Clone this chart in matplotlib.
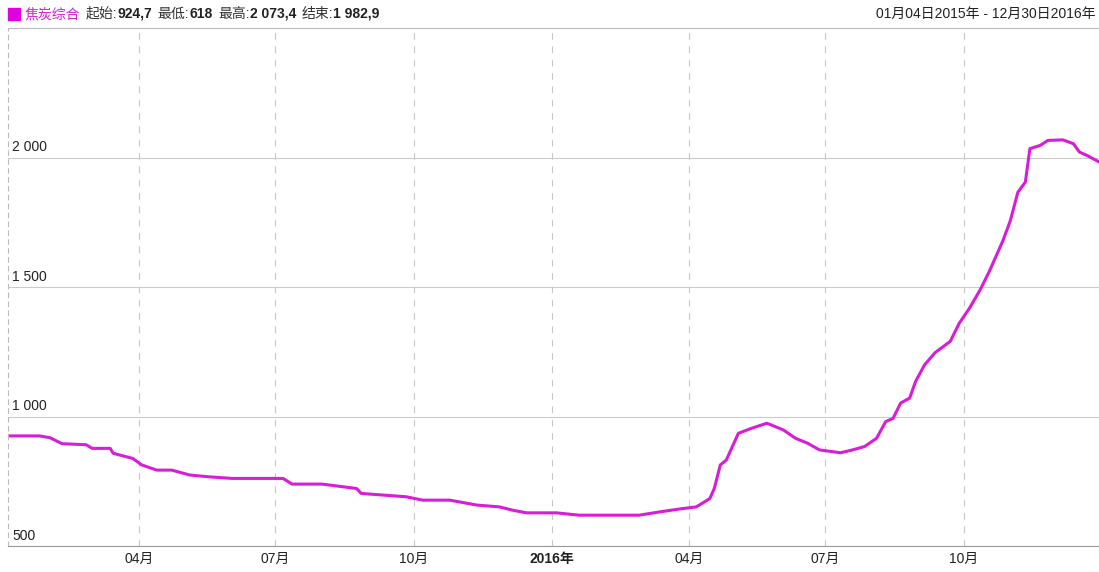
import matplotlib.pyplot as plt
import numpy as np
import pandas as pd

plt.rcParams['font.family'] = ['Liberation Sans', 'Noto Sans CJK SC', 'DejaVu Sans']

# weekly-ish readings of the coke composite index
dates = ['2015-01-04', '2015-01-25', '2015-02-01', '2015-02-09', '2015-02-25',
         '2015-03-01', '2015-03-13', '2015-03-15', '2015-03-28', '2015-04-03',
         '2015-04-13', '2015-04-23', '2015-05-05', '2015-05-18', '2015-06-02',
         '2015-07-06', '2015-07-12', '2015-08-01', '2015-08-24', '2015-08-27',
         '2015-09-26', '2015-10-07', '2015-10-25', '2015-11-12', '2015-11-27',
         '2015-12-06', '2015-12-15', '2016-01-04', '2016-01-19', '2016-02-28',
         '2016-03-13', '2016-03-26', '2016-04-06', '2016-04-15', '2016-04-18',
         '2016-04-22', '2016-04-26', '2016-05-04', '2016-05-13', '2016-05-23',
         '2016-06-03', '2016-06-11', '2016-06-19', '2016-06-27', '2016-07-11',
         '2016-07-19', '2016-07-27', '2016-08-04', '2016-08-10', '2016-08-15',
         '2016-08-20', '2016-08-26', '2016-08-30', '2016-09-05', '2016-09-12',
         '2016-09-22', '2016-09-28', '2016-10-05', '2016-10-12', '2016-10-18',
         '2016-10-27', '2016-11-01', '2016-11-06', '2016-11-11', '2016-11-14',
         '2016-11-21', '2016-11-26', '2016-12-06', '2016-12-13', '2016-12-17',
         '2016-12-22', '2016-12-30']
values = [925, 925, 918, 895, 891, 877, 877, 858, 838, 813,
          793, 793, 774, 767, 761, 761, 739, 739, 722, 703,
          690, 677, 677, 658, 651, 638, 628, 628, 619, 619,
          632, 643, 651, 683, 722, 813, 832, 935, 955, 974,
          948, 916, 897, 871, 860, 871, 884, 916, 980, 993,
          1052, 1071, 1136, 1200, 1247, 1290, 1360, 1420, 1490, 1560,
          1678, 1756, 1866, 1905, 2034, 2047, 2066, 2068, 2053, 2021,
          2008, 1983]

tick_dates = ['2015-04-01', '2015-07-01', '2015-10-01', '2016-01-01',
              '2016-04-01', '2016-07-01', '2016-10-01']
tick_labels = ['04月', '07月', '10月', '2016年', '04月', '07月', '10月']
y_ticks = [500, 1000, 1500, 2000]
y_labels = ['500', '1 000', '1 500', '2 000']

series_name = '焦炭综合'
stats = [('起始:', '924,7'), ('最低:', '618'), ('最高:', '2 073,4'), ('结束:', '1 982,9')]
date_range = '01月04日2015年 - 12月30日2016年'

df = pd.DataFrame({'date': pd.to_datetime(dates), 'value': values})

W, H = 1099, 572
fig = plt.figure(figsize=(W / 100, H / 100), dpi=100)
ax = fig.add_axes([8 / W, 26 / H, 1 - 8 / W, 1 - 54 / H])

ax.plot(df['date'], df['value'], color='#d81cd8', lw=2.2, solid_joinstyle='round')

ax.set_xlim(pd.Timestamp('2015-01-04'), pd.Timestamp('2016-12-30'))
ax.set_ylim(500, 2500)

ax.set_yticks(y_ticks)
ax.set_yticklabels([])
ax.tick_params(axis='y', length=0)
for v, lab in zip(y_ticks, y_labels):
    ax.text(0.004, v + 12, lab, transform=ax.get_yaxis_transform(),
            fontsize=10, color='#222222', va='bottom', ha='left')
ax.yaxis.grid(True, color='#cccccc', lw=0.8)

td = pd.to_datetime(tick_dates)
ax.set_xticks(td)
ax.set_xticklabels(tick_labels, fontsize=10, color='#222222')
for t in ax.get_xticklabels():
    if t.get_text() == '2016年':
        t.set_fontweight('bold')
ax.tick_params(axis='x', length=0, pad=4)
for d in td:
    ax.axvline(d, color='#c8c8c8', lw=0.8, ls=(0, (6, 6)), zorder=0)

ax.spines['right'].set_visible(False)
ax.spines['top'].set_color('#bbbbbb')
ax.spines['bottom'].set_color('#999999')
ax.spines['left'].set_color('#bbbbbb')
ax.spines['left'].set_linestyle((0, (4, 4)))

# header legend
ty = 1 - 14 / H
fig.patches.append(plt.Rectangle((8 / W, 1 - 20 / H), 12 / W, 12 / H,
                                 transform=fig.transFigure, color='#e000e0'))
prev = fig.text(25 / W, ty, series_name, color='#d81cd8', fontsize=10, va='center')
for lab, num in stats:
    a = ax.annotate(lab, xy=(1, 0.5), xycoords=prev, xytext=(4, 0),
                    textcoords='offset points', va='center', ha='left',
                    fontsize=10, color='#333333', annotation_clip=False)
    prev = ax.annotate(num, xy=(1, 0.5), xycoords=a, xytext=(0, 0),
                       textcoords='offset points', va='center', ha='left',
                       fontsize=10, fontweight='bold', color='#222222',
                       annotation_clip=False)
fig.text(1 - 4 / W, ty, date_range, color='#222222',
         fontsize=10, va='center', ha='right')

fig.savefig('out.png', dpi=100)
